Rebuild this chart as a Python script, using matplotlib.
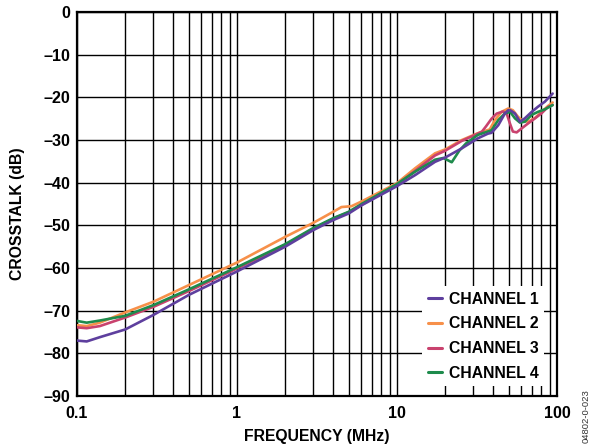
import matplotlib
matplotlib.use("Agg")
import matplotlib.pyplot as plt
from matplotlib.ticker import FixedLocator, NullFormatter, LogLocator

plt.rcParams['font.family'] = ['Liberation Sans', 'DejaVu Sans']

# ---- data (frequency in MHz, crosstalk in dB) ----
freq_ch1 = [0.1, 0.115, 0.139, 0.2, 0.3, 0.5, 1, 2, 3, 4, 5, 6, 10, 13, 17.3, 20, 25.4, 32,
            37, 39, 43, 47.3, 49.6, 51, 54.6, 58.7, 63, 69.5, 76, 84, 94]
xt_ch1 = [-77.0, -77.2, -76.2, -74.4, -71.0, -66.3, -60.8, -55.0, -51.1, -48.75, -47.2, -45.3,
          -40.8, -38.2, -35.1, -34.1, -31.95, -29.6, -28.5, -28.3, -26.5, -23.75, -23.0, -23.0,
          -23.75, -25.7, -24.9, -23.4, -22.2, -21.0, -19.1]

freq_ch2 = [0.1, 0.115, 0.139, 0.2, 0.3, 0.5, 1, 2, 3, 4, 4.5, 5.2, 6, 10, 13, 17.3, 20, 25.4,
            32, 38, 41, 45, 49.6, 53, 57, 61, 66, 73, 80, 88, 94]
xt_ch2 = [-73.4, -73.6, -72.8, -70.4, -67.9, -64.0, -58.7, -52.7, -49.4, -46.8, -45.7, -45.5,
          -44.4, -40.1, -36.6, -33.1, -32.2, -30.0, -28.4, -27.5, -25.3, -23.4, -22.6, -23.0,
          -24.5, -25.5, -25.7, -24.8, -23.4, -22.0, -21.2]

freq_ch3 = [0.1, 0.115, 0.139, 0.2, 0.3, 0.5, 1, 2, 3, 4, 5, 6, 10, 13, 17.3, 20, 25.4, 32,
            34, 36, 39, 42, 46, 48.5, 50.8, 53, 56, 60, 66, 73, 80, 88, 94]
xt_ch3 = [-73.9, -74.1, -73.6, -71.6, -69.1, -65.4, -60.1, -54.6, -50.8, -48.4, -46.9, -45.2,
          -40.4, -37.2, -33.6, -32.5, -30.2, -28.5, -28.0, -26.8, -25.0, -23.8, -23.3, -23.8,
          -26.1, -28.0, -28.2, -27.3, -26.1, -24.9, -23.75, -22.2, -21.8]

freq_ch4 = [0.1, 0.115, 0.139, 0.2, 0.3, 0.5, 1, 2, 3, 4, 5, 6, 10, 13, 17.3, 19.5, 22, 24.5,
            27, 32, 39, 43, 47.3, 51, 54.6, 58.7, 63, 69.5, 76, 84, 94]
xt_ch4 = [-72.4, -72.8, -72.3, -71.2, -68.7, -65.0, -59.8, -54.4, -50.6, -48.3, -46.8, -45.0,
          -40.3, -37.4, -34.6, -34.2, -35.2, -32.5, -30.8, -28.8, -27.7, -25.3, -23.75, -23.4,
          -24.9, -25.9, -25.7, -24.1, -23.4, -22.8, -21.8]

labels = ["CHANNEL 1", "CHANNEL 2", "CHANNEL 3", "CHANNEL 4"]
colors = ["#5E3F9E", "#F7904A", "#C9426E", "#1E8B4C"]

x_ticks = [0.1, 1, 10, 100]
x_ticklabels = ["0.1", "1", "10", "100"]
y_ticks = [0, -10, -20, -30, -40, -50, -60, -70, -80, -90]
y_ticklabels = ["0", "–10", "–20", "–30", "–40", "–50", "–60", "–70", "–80", "–90"]

# ---- figure ----
fig = plt.figure(figsize=(5.9, 4.47), dpi=100)
ax = fig.add_axes([0.1305, 0.114, 0.8135, 0.859])
ax.set_xscale('log')
ax.set_xlim(0.1, 100)
ax.set_ylim(-90, 0)

series = [(freq_ch1, xt_ch1), (freq_ch2, xt_ch2), (freq_ch3, xt_ch3), (freq_ch4, xt_ch4)]
handles = [None] * 4
for idx in [1, 2, 3, 0]:
    f, v = series[idx]
    h, = ax.plot(f, v, color=colors[idx], lw=1.9, label=labels[idx], zorder=3,
                 solid_capstyle='round', solid_joinstyle='round')
    handles[idx] = h

ax.xaxis.set_major_locator(FixedLocator(x_ticks))
ax.set_xticklabels(x_ticklabels)
ax.xaxis.set_minor_locator(LogLocator(base=10, subs=range(2, 10)))
ax.xaxis.set_minor_formatter(NullFormatter())
ax.set_yticks(y_ticks)
ax.set_yticklabels(y_ticklabels)

ax.grid(which='both', axis='x', color='black', lw=1.0, zorder=1)
ax.grid(which='major', axis='y', color='black', lw=1.0, zorder=1)
ax.set_axisbelow(True)
ax.tick_params(which='both', length=0)
ax.tick_params(axis='x', pad=7)
ax.tick_params(axis='y', pad=5)
for lab in ax.get_xticklabels() + ax.get_yticklabels():
    lab.set_fontweight('bold')
    lab.set_fontsize(11.6)
for sp in ax.spines.values():
    sp.set_linewidth(1.6)
    sp.set_color('black')

ax.set_xlabel("FREQUENCY (MHz)", fontsize=11.3, fontweight='bold', labelpad=6)
ax.set_ylabel("CROSSTALK (dB)", fontsize=11.3, fontweight='bold')
ax.yaxis.set_label_coords(-0.108, 0.474)

leg = ax.legend(handles=handles, loc='lower right', bbox_to_anchor=(0.99, 0.005),
                frameon=True, fancybox=False, framealpha=1, facecolor='white',
                edgecolor='none', handlelength=0.9, handletextpad=0.45,
                labelspacing=0.62, borderpad=0.35,
                prop={'family': 'Liberation Sans', 'weight': 'bold', 'size': 11.3})
leg.set_zorder(5)
for lh in leg.get_lines():
    lh.set_linewidth(2.2)

fig.text(0.993, 0.009, "04802-0-023", rotation=90, fontsize=6.8, color='#333333',
         ha='center', va='bottom')

fig.savefig("out.png", dpi=100)
